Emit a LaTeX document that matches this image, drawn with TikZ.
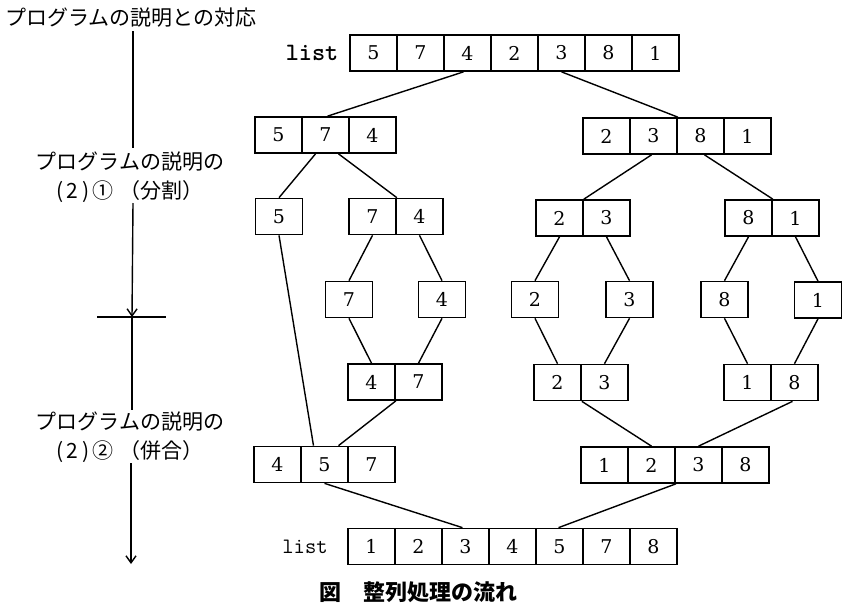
\documentclass[tikz,border=0pt]{standalone}
\usepackage{fontspec}
\newfontfamily\jp{Noto Sans CJK JP}
\newfontfamily\digitfont{DejaVu Serif}
\usetikzlibrary{arrows.meta,calc}
\begin{document}
\begin{tikzpicture}[x=1pt,y=-1pt,
  cell/.style={draw,line width=1.7pt,minimum width=47pt,minimum height=36pt,inner sep=0pt,font=\digitfont\fontsize{19}{19}\selectfont},
  link/.style={line width=1.4pt},
  axisline/.style={line width=1.4pt},
  jptext/.style={font=\jp\fontsize{21}{29}\selectfont,align=center,inner sep=0pt},
  listlabel/.style={font=\ttfamily\fontsize{24}{24}\selectfont,inner sep=0pt}]
\useasboundingbox (0,0) rectangle (852,606);

% ---- top list
\node[listlabel,font=\ttfamily\bfseries\fontsize{25}{25}\selectfont] (ltop) at (312,53) {list};
\node[cell] (t1) at (373.5,53) {5};
\node[cell] (t2) at (420.5,53) {7};
\node[cell] (t3) at (467.5,53) {4};
\node[cell] (t4) at (514.5,53) {2};
\node[cell] (t5) at (561.5,53) {3};
\node[cell] (t6) at (608.5,53) {8};
\node[cell] (t7) at (655.5,53) {1};

% ---- row 2
\node[cell] (a1) at (278.5,135) {5};
\node[cell] (a2) at (325.5,135) {7};
\node[cell] (a3) at (372.5,135) {4};
\node[cell] (b1) at (606.5,136) {2};
\node[cell] (b2) at (653.5,136) {3};
\node[cell] (b3) at (700.5,136) {8};
\node[cell] (b4) at (747.5,136) {1};

% ---- row 3
\node[cell] (c1) at (279,216.5) {5};
\node[cell] (d1) at (372.5,216.5) {7};
\node[cell] (d2) at (419.5,216.5) {4};
\node[cell] (e1) at (559.5,218) {2};
\node[cell] (e2) at (606.5,218) {3};
\node[cell] (f1) at (748.5,218) {8};
\node[cell] (f2) at (795.5,218) {1};

% ---- row 4
\node[cell] (g) at (349,299.5) {7};
\node[cell] (h) at (442,299.5) {4};
\node[cell] (i) at (535,299.5) {2};
\node[cell] (j) at (629.5,299.5) {3};
\node[cell] (k) at (724.5,299.5) {8};
\node[cell] (l) at (818,300) {1};

% ---- row 5
\node[cell] (m1) at (371.5,382) {4};
\node[cell] (m2) at (418.5,382) {7};
\node[cell] (n1) at (557.5,382.5) {2};
\node[cell] (n2) at (604.5,382.5) {3};
\node[cell] (o1) at (747.5,382.5) {1};
\node[cell] (o2) at (794.5,382.5) {8};

% ---- row 6
\node[cell] (p1) at (277.5,464.5) {4};
\node[cell] (p2) at (324.5,464.5) {5};
\node[cell] (p3) at (371.5,464.5) {7};
\node[cell] (q1) at (604.5,465) {1};
\node[cell] (q2) at (651.5,465) {2};
\node[cell] (q3) at (698.5,465) {3};
\node[cell] (q4) at (745.5,465) {8};

% ---- bottom list
\node[listlabel,font=\ttfamily\fontsize{22}{22}\selectfont] (lbot) at (305,547) {list};
\node[cell] (r1) at (371.5,546.5) {1};
\node[cell] (r2) at (418.5,546.5) {2};
\node[cell] (r3) at (465.5,546.5) {3};
\node[cell] (r4) at (512.5,546.5) {4};
\node[cell] (r5) at (559.5,546.5) {5};
\node[cell] (r6) at (606.5,546.5) {7};
\node[cell] (r7) at (653.5,546.5) {8};

% ---- connectors: split
\draw[link] ([xshift=-4pt]t3.south) -- ([xshift=2pt]a2.north);
\draw[link] (t5.south) -- (b2.north east);
\draw[link] ([xshift=-10pt]a2.south) -- (c1.north);
\draw[link] ([xshift=13pt]a2.south) -- (d1.north east);
\draw[link] ([xshift=-2pt]b2.south) -- (e1.north east);
\draw[link] ([xshift=4pt]b3.south) -- (f1.north east);
\draw[link] (d1.south) -- (g.north);
\draw[link] (d2.south) -- (h.north);
\draw[link] (e1.south) -- (i.north);
\draw[link] (e2.south) -- (j.north);
\draw[link] (f1.south) -- (k.north);
\draw[link] (f2.south) -- (l.north);
% ---- connectors: merge
\draw[link] (g.south) -- (m1.north);
\draw[link] (h.south) -- (m2.north);
\draw[link] (i.south) -- (n1.north);
\draw[link] (j.south) -- (n2.north);
\draw[link] (k.south) -- (o1.north);
\draw[link] (l.south) -- (o2.north);
\draw[link] (c1.south) -- ([xshift=-11pt]p2.north);
\draw[link] (m1.south east) -- ([xshift=14pt]p2.north);
\draw[link] (n1.south east) -- (q2.north);
\draw[link] ([xshift=-2pt]o2.south) -- (q3.north);
\draw[link] (p2.south) -- ([xshift=-3pt]r3.north);
\draw[link] (q2.south east) -- ([xshift=-1pt]r5.north);

% ---- left axis
\node[jptext,anchor=west] (head) at (5,18) {プログラムの説明との対応};
\node[jptext] (lab1) at (130,177.5) {プログラムの説明の\\(\,2\,)\,①\;（分割）};
\node[jptext] (lab2) at (130,437.5) {プログラムの説明の\\(\,2\,)\,②\;（併合）};
\coordinate (ax0) at (133,31);
\coordinate (ax1) at (133,148);
\coordinate (ax2) at (133,203);
\coordinate (ax3) at (132,317);
\coordinate (hl) at (97,317);
\coordinate (hr) at (166,317);
\coordinate (ax4) at (132,410);
\coordinate (ax5) at (131,463);
\coordinate (ax6) at (131,564);
\draw[axisline] (ax0) -- (ax1);
\draw[axisline,-{Straight Barb[length=7pt,width=10pt]}] (ax2) -- (ax3);
\draw[axisline] (hl) -- (hr);
\draw[axisline] (ax3) -- (ax4);
\draw[axisline,-{Straight Barb[length=7pt,width=10pt]}] (ax5) -- (ax6);

% ---- caption
\node[font=\jp\bfseries\fontsize{22}{22}\selectfont,inner sep=0pt] (cap) at (418,592) {図\quad 整列処理の流れ};
\end{tikzpicture}
\end{document}
